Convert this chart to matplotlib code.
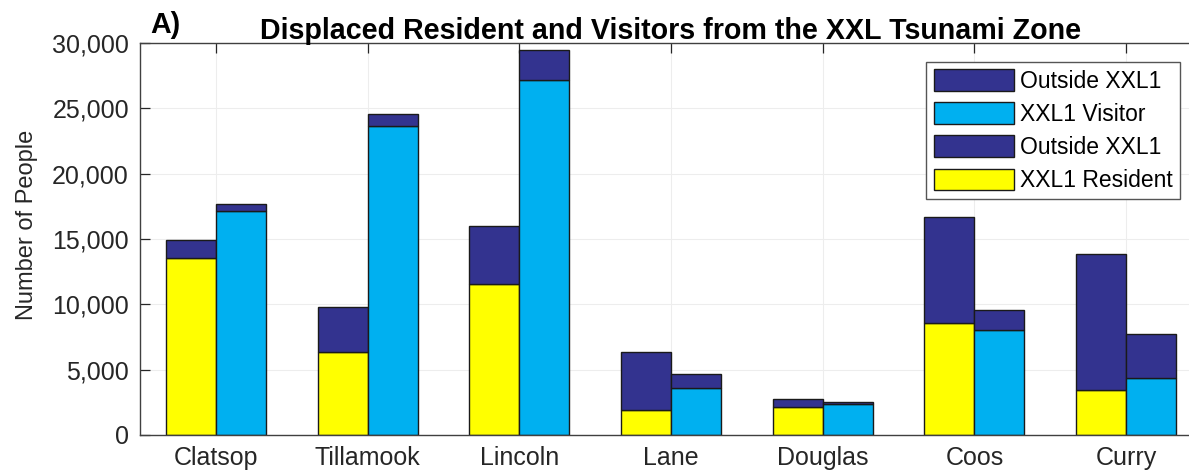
import matplotlib
matplotlib.use("Agg")
import matplotlib.pyplot as plt
from matplotlib.patches import Patch
import numpy as np

plt.rcParams['font.family'] = ['Liberation Sans', 'DejaVu Sans']

counties = ["Clatsop", "Tillamook", "Lincoln", "Lane", "Douglas", "Coos", "Curry"]
resident = [13550, 6350, 11550, 1900, 2150, 8550, 3450]
outside_resident = [1350, 3450, 4450, 4450, 600, 8150, 10400]
visitor = [17150, 23650, 27200, 3600, 2350, 8000, 4400]
outside_visitor = [500, 900, 2300, 1050, 150, 1550, 3300]
yticks = [0, 5000, 10000, 15000, 20000, 25000, 30000]

c_dark = "#33338f"
c_cyan = "#00b0f0"
c_yellow = "#ffff00"
edge = "#1a1a1a"

W, H = 1189, 476
fig = plt.figure(figsize=(W / 100, H / 100), dpi=100)
ax = fig.add_axes([140 / W, 1 - 435 / H, (1202 - 140) / W, 392 / H])

x = np.arange(1, len(counties) + 1)
bw = 0.33
ax.bar(x - bw / 2, resident, bw, color=c_yellow, edgecolor=edge, linewidth=1, zorder=2)
ax.bar(x - bw / 2, outside_resident, bw, bottom=resident, color=c_dark, edgecolor=edge, linewidth=1, zorder=2)
ax.bar(x + bw / 2, visitor, bw, color=c_cyan, edgecolor=edge, linewidth=1, zorder=2)
ax.bar(x + bw / 2, outside_visitor, bw, bottom=visitor, color=c_dark, edgecolor=edge, linewidth=1, zorder=2)

ax.set_xlim(0.5, 7.5)
ax.set_ylim(0, 30000)
ax.set_xticks(x)
ax.set_xticklabels(counties)
ax.set_yticks(yticks)
ax.set_yticklabels([f"{v:,}" for v in yticks])
ax.tick_params(axis='both', direction='in', length=7, width=0.9, colors='#262626',
               labelsize=18, labelcolor='#262626', top=True, right=True)
ax.tick_params(axis='x', pad=8)
ax.tick_params(axis='y', pad=8)
for s in ax.spines.values():
    s.set_color('#404040')
    s.set_linewidth(1.0)
ax.grid(True, color='#ededed', linewidth=0.8, zorder=0)
ax.set_axisbelow(True)

ax.set_ylabel("Number of People", fontsize=17, color='#262626')
ax.yaxis.set_label_coords(-102 / (1202 - 140), (435 - 225) / 392)

ax.set_title("Displaced Resident and Visitors from the XXL Tsunami Zone",
             fontsize=20.6, fontweight='bold', pad=3, color='black')
fig.text(150 / W, 1 - 33 / H, "A)", fontsize=20.6, fontweight='bold', ha='left', va='baseline')

handles = [Patch(facecolor=c_dark, edgecolor=edge, linewidth=1),
           Patch(facecolor=c_cyan, edgecolor=edge, linewidth=1),
           Patch(facecolor=c_dark, edgecolor=edge, linewidth=1),
           Patch(facecolor=c_yellow, edgecolor=edge, linewidth=1)]
labels = ["Outside XXL1", "XXL1 Visitor", "Outside XXL1", "XXL1 Resident"]
leg = ax.legend(handles, labels, loc='upper right', bbox_to_anchor=(1180 / W, 1 - 62 / H),
                bbox_transform=fig.transFigure, fontsize=16.5, frameon=True, fancybox=False,
                edgecolor='#555555', framealpha=1, handlelength=3.5, handleheight=1.05,
                handletextpad=0.26, labelspacing=0.42, borderpad=0.32, borderaxespad=0)
leg.get_frame().set_linewidth(1.0)

fig.savefig("out.png", dpi=100)
